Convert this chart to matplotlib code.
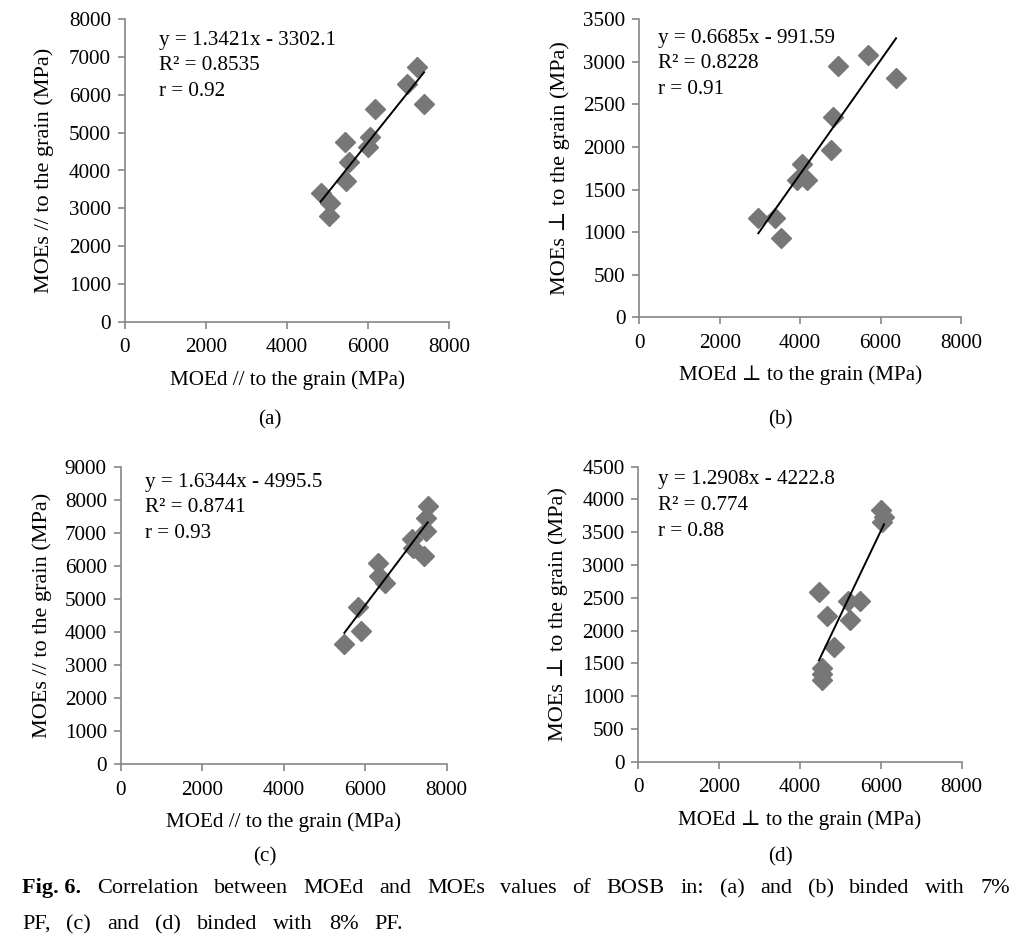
import numpy as np
import matplotlib
matplotlib.use('Agg')
from matplotlib import pyplot as plt

# data
xa = [4827, 5058, 5041, 5428, 5535, 5452, 5987, 6044, 6168, 6949, 7212, 7377]
ya = [3413, 3131, 2795, 4744, 4233, 3730, 4630, 4894, 5626, 6287, 6746, 5758]
xb = [2960, 3375, 3516, 3914, 4038, 4163, 4768, 4809, 4950, 5680, 6385]
yb = [1163, 1163, 936, 1613, 1797, 1613, 1966, 2357, 2952, 3081, 2815]
xc = [5489, 5890, 5816, 6307, 6348, 6487, 7141, 7182, 7444, 7493, 7493, 7534]
yc = [3639, 4042, 4748, 6079, 5706, 5474, 6815, 6552, 6300, 7056, 7440, 7812]
xd = [4470, 4660, 4849, 5196, 5237, 5485, 4553, 4553, 4553, 5996, 6078, 6021]
yd = [2583, 2222, 1754, 2456, 2161, 2456, 1434, 1332, 1246, 3838, 3727, 3660]

slopes = [1.3421, 0.6685, 1.6344, 1.2908]
intercepts = [-3302.1, -991.59, -4995.5, -4222.8]
r2 = ['0.8535', '0.8228', '0.8741', '0.774']
r = ['0.92', '0.91', '0.93', '0.88']
ymax = [8000, 3500, 9000, 4500]
ystep = [1000, 500, 1000, 500]
xlabels = ['MOEd // to the grain (MPa)', 'MOEd \u22a5 to the grain (MPa)',
           'MOEd // to the grain (MPa)', 'MOEd \u22a5 to the grain (MPa)']
ylabels = ['MOEs // to the grain (MPa)', 'MOEs \u22a5 to the grain (MPa)',
           'MOEs // to the grain (MPa)', 'MOEs \u22a5 to the grain (MPa)']
panels = ['(a)', '(b)', '(c)', '(d)']
caption1 = ['Correlation', 'between', 'MOEd', 'and', 'MOEs', 'values', 'of',
            'BOSB', 'in:', '(a)', 'and', '(b)', 'binded', 'with', '7%']
caption2 = ['PF,', '(c)', 'and', '(d)', 'binded', 'with', '8%', 'PF.']

W, H = 1027, 940
serif = ['Liberation Serif', 'DejaVu Serif']
plt.rcParams['font.family'] = serif

fig = plt.figure(figsize=(W / 100, H / 100), dpi=100)

# axes boxes in pixels: left, top, right, bottom
boxes = [(125, 19.3, 449.3, 321.7), (639.3, 19.3, 961, 317.3),
         (120.7, 466.7, 446.7, 764.3), (638.3, 466.7, 961.7, 761.7)]
text_x = [159, 658, 145, 658]
text_y = [(40, 65, 91), (38, 63, 89), (482, 508, 533), (480, 505, 531)]
lab_pos = [(270, 420), (780, 420), (265, 857), (780, 857)]
ylab_x = [54, 570, 52, 568]

xs = [xa, xb, xc, xd]
ys = [ya, yb, yc, yd]
fs = 15.2
for i in range(4):
    l, t, rr, b = boxes[i]
    ax = fig.add_axes([l / W, 1 - b / H, (rr - l) / W, (b - t) / H])
    x = np.array(xs[i])
    y = np.array(ys[i])
    ax.plot(x, y, 'D', color='#777777', ms=10.5, mec='#777777', zorder=3)
    xl = np.array([x.min(), x.max()])
    ax.plot(xl, slopes[i] * xl + intercepts[i], color='black', lw=1.4, zorder=4)
    ax.set_xlim(0, 8000)
    ax.set_ylim(0, ymax[i])
    ax.set_xticks(np.arange(0, 8001, 2000))
    ax.set_yticks(np.arange(0, ymax[i] + 1, ystep[i]))
    for s in ['top', 'right']:
        ax.spines[s].set_visible(False)
    for s in ['left', 'bottom']:
        ax.spines[s].set_color('#868686')
        ax.spines[s].set_linewidth(1.2)
    ax.tick_params(direction='out', length=5, width=1.2, color='#868686',
                   labelsize=fs, labelcolor='black')
    ax.tick_params(axis='x', pad=7)
    ax.tick_params(axis='y', pad=5)
    ax.set_xlabel(xlabels[i], fontsize=fs, labelpad=9)
    ax.set_ylabel(ylabels[i], fontsize=16)
    ax.yaxis.set_label_coords((ylab_x[i] - l) / (rr - l), 0.5)
    lines = ['y = %sx - %s' % (slopes[i], -intercepts[i]),
             'R\u00b2 = ' + r2[i], 'r = ' + r[i]]
    for k in range(3):
        fig.text(text_x[i] / W, 1 - text_y[i][k] / H, lines[k], fontsize=fs,
                 va='center', ha='left')
    fig.text(lab_pos[i][0] / W, 1 - lab_pos[i][1] / H, panels[i], fontsize=fs,
             ha='center', va='center')

# caption, justified word by word
cfs = 16
renderer = fig.canvas.get_renderer()


def justify(words, x0, x1, ypix, first=None):
    items = []
    if first is not None:
        items.append(fig.text(0, 1 - ypix / H, first, fontsize=cfs,
                              fontweight='bold', va='baseline', ha='left'))
    for w in words:
        items.append(fig.text(0, 1 - ypix / H, w, fontsize=cfs,
                              va='baseline', ha='left'))
    widths = [it.get_window_extent(renderer).width for it in items]
    gap = (x1 - x0 - sum(widths)) / (len(items) - 1)
    pos = x0
    for it, wd in zip(items, widths):
        it.set_x(pos / W)
        pos += wd + gap


justify(caption1, 22, 1010, 893, first='Fig. 6.')
justify(caption2, 22, 403, 929)

fig.savefig('out.png', dpi=100)
